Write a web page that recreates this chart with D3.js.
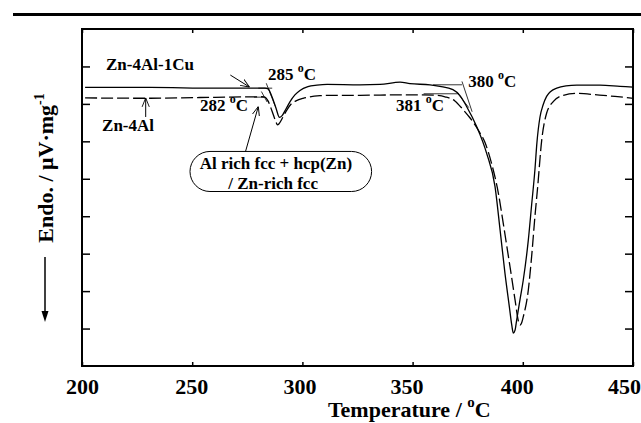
<!DOCTYPE html>
<html lang="en">
<head>
<meta charset="utf-8">
<title>DSC Zn-4Al / Zn-4Al-1Cu</title>
<script src="https://cdn.jsdelivr.net/npm/d3@7"></script>
<style>
  body { margin: 0; background: #fff; }
  svg text { font-family: "Liberation Serif", "Times New Roman", serif; font-weight: bold; fill: #000; }
</style>
</head>
<body>
<svg id="chart" width="641" height="423"></svg>
<script>
// temperature (deg C) / heat flow (arbitrary units, one per y tick)
var tempCu  = [201.4, 230.9, 260.3, 283.0, 284.4, 286.2, 288.0, 289.6, 290.7, 292.6, 294.4, 296.6, 298.9,
               302.5, 306.6, 311.2, 326.1, 335.2, 344.3, 348.8, 357.9, 362.4, 368.3, 371.5, 374.5, 379.1,
               383.6, 387.4, 389.7, 391.9, 393.9, 395.0, 395.7, 396.5, 397.2, 398.7, 400.2, 402.5, 404.0,
               405.5, 406.4, 407.8, 409.2, 410.8, 412.8, 415.4, 419.6, 424.5, 435.0, 444.1, 450.0];
var flowCu  = [7.44, 7.44, 7.42, 7.42, 7.40, 7.19, 6.89, 6.64, 6.68, 6.87, 7.06, 7.24, 7.36,
               7.46, 7.50, 7.52, 7.51, 7.52, 7.58, 7.54, 7.51, 7.47, 7.38, 7.22, 6.93, 6.39,
               5.68, 4.79, 3.63, 2.48, 1.58, 1.09, 0.88, 0.96, 1.22, 1.76, 2.29, 3.36, 4.30,
               5.24, 5.96, 6.65, 6.97, 7.20, 7.34, 7.42, 7.48, 7.50, 7.50, 7.47, 7.45];

var tempAl  = [201.4, 230.9, 253.5, 281.7, 283.0, 284.4, 286.2, 288.0, 288.7, 289.4, 291.2, 293.0, 294.8,
               297.1, 300.3, 303.4, 308.0, 312.5, 326.1, 344.3, 353.4, 360.2, 364.7, 369.2, 373.0, 376.0,
               379.7, 382.9, 386.0, 388.9, 391.1, 392.8, 394.2, 396.5, 398.0, 398.7, 399.4, 400.2, 402.5,
               404.0, 405.5, 406.7, 408.6, 410.8, 413.8, 418.4, 424.5, 433.7, 441.8, 450.0];
var flowAl  = [7.16, 7.15, 7.17, 7.19, 7.18, 7.08, 6.81, 6.52, 6.44, 6.47, 6.65, 6.84, 6.99,
               7.08, 7.15, 7.19, 7.22, 7.23, 7.23, 7.24, 7.24, 7.23, 7.19, 7.08, 6.84, 6.63,
               6.31, 5.96, 5.37, 4.62, 3.82, 3.18, 2.65, 1.76, 1.20, 1.09, 1.14, 1.31, 2.03,
               2.92, 3.99, 4.75, 6.04, 6.75, 7.06, 7.23, 7.28, 7.24, 7.20, 7.15];

// onset construction lines [temp, flow]
var tangents = [
  [[280.0, 7.42], [286.3, 7.42]],
  [[283.6, 7.55], [287.6, 6.95]],
  [[278.0, 7.18], [282.6, 7.18]],
  [[281.4, 7.33], [284.0, 7.05]],
  [[359.3, 7.51], [372.4, 7.51]],
  [[372.4, 7.60], [377.0, 6.79]],
  [[355.0, 7.27], [371.0, 7.27]],
  [[370.2, 7.30], [375.5, 6.90]]
];

var xTicks = [200, 250, 300, 350, 400, 450];
var xTickShift = [0, -1, -3, -6, -6, -9];
var yTicks = [1, 2, 3, 4, 5, 6, 7, 8];

var svg = d3.select("#chart");
var x = d3.scaleLinear().domain([200, 450]).range([82, 633]);
var y = d3.scaleLinear().domain([0, 9]).range([366, 29]);

// rule across the top of the figure
svg.append("line").attr("x1", 13).attr("x2", 641).attr("y1", 14.5).attr("y2", 14.5)
  .attr("stroke", "#000").attr("stroke-width", 3);

// axes, ticks pointing inward
svg.append("g").attr("transform", "translate(0,366)")
  .call(d3.axisBottom(x).tickValues(xTicks).tickSizeInner(-4).tickSizeOuter(0).tickPadding(0))
  .call(function(g) {
    g.select(".domain").remove();
    g.selectAll("line").attr("stroke-width", 1.5);
    g.selectAll("text").attr("y", 28).attr("dy", null)
      .attr("dx", function(d, i) { return xTickShift[i]; })
      .style("font-size", "22px");
  });
svg.append("g").attr("transform", "translate(0,29)")
  .call(d3.axisTop(x).tickValues(xTicks).tickSizeInner(-4).tickSizeOuter(0).tickFormat(""))
  .call(function(g) { g.select(".domain").remove(); g.selectAll("line").attr("stroke-width", 1.5); });
svg.append("g").attr("transform", "translate(82,0)")
  .call(d3.axisLeft(y).tickValues(yTicks).tickSizeInner(-8).tickSizeOuter(0).tickFormat(""))
  .call(function(g) { g.select(".domain").remove(); g.selectAll("line").attr("stroke-width", 1.5); });
svg.append("g").attr("transform", "translate(633,0)")
  .call(d3.axisRight(y).tickValues(yTicks).tickSizeInner(-8).tickSizeOuter(0).tickFormat(""))
  .call(function(g) { g.select(".domain").remove(); g.selectAll("line").attr("stroke-width", 1.5); });

svg.append("rect").attr("x", x(200)).attr("y", y(9))
  .attr("width", x(450) - x(200)).attr("height", y(0) - y(9))
  .attr("fill", "none").attr("stroke", "#000").attr("stroke-width", 2);

// curves
var line = d3.line().x(function(d) { return x(d[0]); }).y(function(d) { return y(d[1]); })
  .curve(d3.curveMonotoneX);

svg.append("path").datum(d3.zip(tempCu, flowCu)).attr("d", line)
  .attr("fill", "none").attr("stroke", "#000").attr("stroke-width", 1.3);
svg.append("path").datum(d3.zip(tempAl, flowAl)).attr("d", line)
  .attr("fill", "none").attr("stroke", "#000").attr("stroke-width", 1.3)
  .attr("stroke-dasharray", "12,4");

svg.selectAll(".tan").data(tangents).enter().append("line").attr("class", "tan")
  .attr("x1", function(d) { return x(d[0][0]); }).attr("y1", function(d) { return y(d[0][1]); })
  .attr("x2", function(d) { return x(d[1][0]); }).attr("y2", function(d) { return y(d[1][1]); })
  .attr("stroke", "#000").attr("stroke-width", 0.8);

// arrow marker
svg.append("defs").append("marker").attr("id", "head")
  .attr("viewBox", "0 0 10 10").attr("refX", 10).attr("refY", 5)
  .attr("markerWidth", 9).attr("markerHeight", 9).attr("markerUnits", "userSpaceOnUse")
  .attr("orient", "auto")
  .append("path").attr("d", "M0,1 L10,5 L0,9").attr("fill", "none").attr("stroke", "#000").attr("stroke-width", 1);

function arrow(t1, f1, t2, f2) {
  svg.append("line").attr("x1", x(t1)).attr("y1", y(f1)).attr("x2", x(t2)).attr("y2", y(f2))
    .attr("stroke", "#000").attr("stroke-width", 1).attr("marker-end", "url(#head)");
}

function degLabel(t, f, num) {
  var tx = svg.append("text").attr("x", x(t)).attr("y", y(f)).style("font-size", "17px");
  tx.append("tspan").text(num + " ");
  tx.append("tspan").attr("dy", -8).style("font-size", "12px").text("o");
  tx.append("tspan").attr("dy", 8).text("C");
}

svg.append("text").attr("x", x(210.9)).attr("y", y(7.91)).style("font-size", "17px").text("Zn-4Al-1Cu");
arrow(267.3, 7.77, 276.0, 7.45);
svg.append("text").attr("x", x(209.1)).attr("y", y(6.28)).style("font-size", "17px").text("Zn-4Al");
arrow(228.9, 6.65, 228.9, 7.16);

degLabel(284.4, 7.64, "285");
degLabel(253.5, 6.80, "282");
degLabel(375.2, 7.46, "380");
degLabel(342.5, 6.80, "381");

// phase annotation box
svg.append("rect").attr("x", x(249.0)).attr("y", y(5.73))
  .attr("width", x(331.4) - x(249.0)).attr("height", y(4.66) - y(5.73))
  .attr("rx", 20).attr("ry", 20).attr("fill", "#fff").attr("stroke", "#000").attr("stroke-width", 1);
svg.append("text").attr("x", x(288.0)).attr("y", y(5.26)).attr("text-anchor", "middle")
  .style("font-size", "17px").text("Al rich fcc + hcp(Zn)");
svg.append("text").attr("x", x(286.7)).attr("y", y(4.74)).attr("text-anchor", "middle")
  .style("font-size", "17px").text("/ Zn-rich fcc");
arrow(274.2, 5.73, 280.0, 6.93);

// axis titles
var xt = svg.append("text").attr("x", x(348.5)).attr("y", 417).attr("text-anchor", "middle")
  .style("font-size", "22px");
xt.append("tspan").text("Temperature / ");
xt.append("tspan").attr("dy", -10).style("font-size", "15px").text("o");
xt.append("tspan").attr("dy", 10).text("C");

var yt = svg.append("text").attr("transform", "translate(53,168) rotate(-90)")
  .attr("text-anchor", "middle").style("font-size", "22px");
yt.append("tspan").text("Endo.  / \u03bcV\u00b7mg");
yt.append("tspan").attr("dy", -9).style("font-size", "14px").text("-1");

svg.append("line").attr("x1", 45).attr("x2", 45).attr("y1", 257).attr("y2", 312)
  .attr("stroke", "#000").attr("stroke-width", 1.5);
svg.append("path").attr("d", d3.line()([[41.5, 311], [48.5, 311], [45, 322]])).attr("fill", "#000");
</script>
</body>
</html>
